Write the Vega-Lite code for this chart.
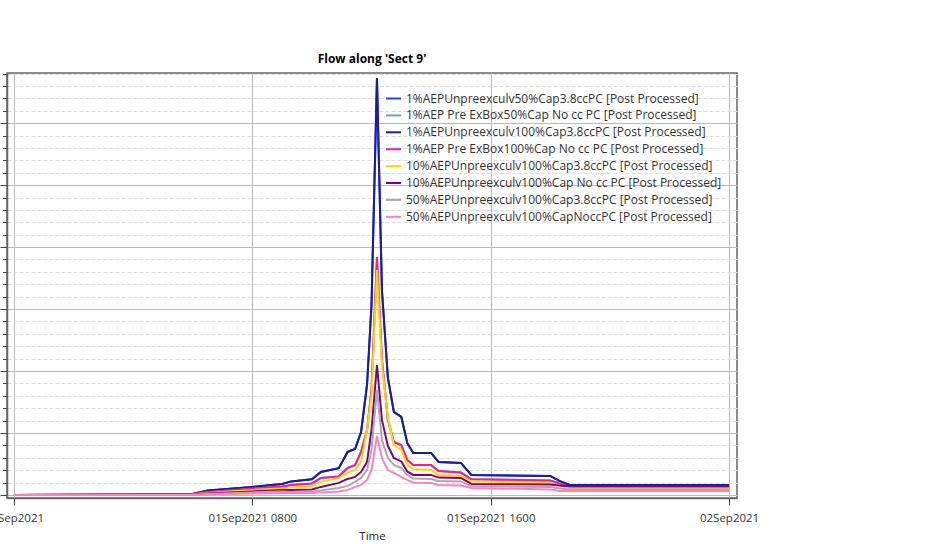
{
  "$schema": "https://vega.github.io/schema/vega-lite/v6.json",
  "width": 730,
  "height": 425,
  "autosize": {"type": "none"},
  "padding": {"left": 7, "top": 73, "right": 193, "bottom": 57},
  "background": "white",
  "config": {
    "font": "Open Sans",
    "view": {"stroke": "#666666", "strokeWidth": 1.5}
  },
  "title": {"text": "Flow along 'Sect 9'", "fontSize": 12, "fontWeight": "bold", "color": "#000000", "offset": 7, "font": "Open Sans"},
  "datasets": {
    "series": [
      {"key": "a", "name": "1%AEPUnpreexculv50%Cap3.8ccPC [Post Processed]"},
      {"key": "b", "name": "1%AEP Pre ExBox50%Cap No cc PC [Post Processed]"},
      {"key": "c", "name": "1%AEPUnpreexculv100%Cap3.8ccPC [Post Processed]"},
      {"key": "d", "name": "1%AEP Pre ExBox100%Cap No cc PC [Post Processed]"},
      {"key": "e", "name": "10%AEPUnpreexculv100%Cap3.8ccPC [Post Processed]"},
      {"key": "f", "name": "10%AEPUnpreexculv100%Cap No cc PC [Post Processed]"},
      {"key": "g", "name": "50%AEPUnpreexculv100%Cap3.8ccPC [Post Processed]"},
      {"key": "h", "name": "50%AEPUnpreexculv100%CapNoccPC [Post Processed]"}
    ],
    "flow": [
      {"t": "2021-09-01T00:00:00", "a": 0, "b": 0, "c": 0, "d": 0, "e": 0, "f": 0, "g": 0, "h": 0},
      {"t": "2021-09-01T04:00:00", "a": 0.008, "b": 0.005, "c": 0.008, "d": 0.005, "e": 0.003, "f": 0.002, "g": 0, "h": 0},
      {"t": "2021-09-01T06:00:00", "a": 0.016, "b": 0.016, "c": 0.016, "d": 0.016, "e": 0.008, "f": 0.008, "g": 0.002, "h": 0},
      {"t": "2021-09-01T06:30:00", "a": 0.073, "b": 0.048, "c": 0.073, "d": 0.048, "e": 0.032, "f": 0.024, "g": 0.016, "h": 0.008},
      {"t": "2021-09-01T08:00:00", "a": 0.129, "b": 0.102, "c": 0.129, "d": 0.102, "e": 0.081, "f": 0.056, "g": 0.040, "h": 0.024},
      {"t": "2021-09-01T09:00:00", "a": 0.177, "b": 0.137, "c": 0.177, "d": 0.137, "e": 0.105, "f": 0.081, "g": 0.056, "h": 0.032},
      {"t": "2021-09-01T09:18:00", "a": 0.218, "b": 0.161, "c": 0.218, "d": 0.161, "e": 0.121, "f": 0.081, "g": 0.048, "h": 0.032},
      {"t": "2021-09-01T10:00:00", "a": 0.253, "b": 0.185, "c": 0.253, "d": 0.185, "e": 0.134, "f": 0.089, "g": 0.056, "h": 0.032},
      {"t": "2021-09-01T10:18:00", "a": 0.371, "b": 0.274, "c": 0.371, "d": 0.274, "e": 0.210, "f": 0.129, "g": 0.073, "h": 0.040},
      {"t": "2021-09-01T10:54:00", "a": 0.431, "b": 0.298, "c": 0.431, "d": 0.298, "e": 0.274, "f": 0.194, "g": 0.113, "h": 0.056},
      {"t": "2021-09-01T11:12:00", "a": 0.694, "b": 0.435, "c": 0.694, "d": 0.435, "e": 0.355, "f": 0.258, "g": 0.145, "h": 0.081},
      {"t": "2021-09-01T11:27:00", "a": 0.742, "b": 0.484, "c": 0.742, "d": 0.484, "e": 0.403, "f": 0.290, "g": 0.210, "h": 0.129},
      {"t": "2021-09-01T11:39:00", "a": 1.016, "b": 0.694, "c": 1.016, "d": 0.694, "e": 0.532, "f": 0.371, "g": 0.274, "h": 0.161},
      {"t": "2021-09-01T11:51:00", "a": 1.774, "b": 1.048, "c": 1.774, "d": 1.048, "e": 1.048, "f": 0.532, "g": 0.403, "h": 0.242},
      {"t": "2021-09-01T12:00:00", "a": 3.065, "b": 1.694, "c": 3.065, "d": 1.694, "e": 1.613, "f": 1.048, "g": 0.726, "h": 0.403},
      {"t": "2021-09-01T12:11:00", "a": 6.726, "b": 3.839, "c": 6.726, "d": 3.839, "e": 3.629, "f": 2.097, "g": 1.694, "h": 0.952},
      {"t": "2021-09-01T12:21:00", "a": 3.306, "b": 2.177, "c": 3.306, "d": 2.177, "e": 2.097, "f": 1.210, "g": 0.887, "h": 0.597},
      {"t": "2021-09-01T12:33:00", "a": 1.887, "b": 1.210, "c": 1.887, "d": 1.210, "e": 1.242, "f": 0.790, "g": 0.597, "h": 0.403},
      {"t": "2021-09-01T12:45:00", "a": 1.339, "b": 0.855, "c": 1.339, "d": 0.855, "e": 0.806, "f": 0.597, "g": 0.484, "h": 0.355},
      {"t": "2021-09-01T13:00:00", "a": 1.258, "b": 0.806, "c": 1.258, "d": 0.806, "e": 0.726, "f": 0.540, "g": 0.435, "h": 0.290},
      {"t": "2021-09-01T13:12:00", "a": 0.839, "b": 0.565, "c": 0.839, "d": 0.565, "e": 0.484, "f": 0.379, "g": 0.323, "h": 0.242},
      {"t": "2021-09-01T13:24:00", "a": 0.677, "b": 0.484, "c": 0.677, "d": 0.484, "e": 0.419, "f": 0.323, "g": 0.266, "h": 0.198},
      {"t": "2021-09-01T14:00:00", "a": 0.677, "b": 0.484, "c": 0.677, "d": 0.484, "e": 0.403, "f": 0.323, "g": 0.258, "h": 0.194},
      {"t": "2021-09-01T14:15:00", "a": 0.532, "b": 0.387, "c": 0.532, "d": 0.387, "e": 0.323, "f": 0.279, "g": 0.226, "h": 0.161},
      {"t": "2021-09-01T15:00:00", "a": 0.516, "b": 0.360, "c": 0.516, "d": 0.360, "e": 0.306, "f": 0.274, "g": 0.218, "h": 0.153},
      {"t": "2021-09-01T15:21:00", "a": 0.323, "b": 0.253, "c": 0.323, "d": 0.253, "e": 0.215, "f": 0.177, "g": 0.145, "h": 0.113},
      {"t": "2021-09-01T18:00:00", "a": 0.306, "b": 0.234, "c": 0.306, "d": 0.234, "e": 0.189, "f": 0.169, "g": 0.129, "h": 0.089},
      {"t": "2021-09-01T18:18:00", "a": 0.226, "b": 0.185, "c": 0.226, "d": 0.185, "e": 0.153, "f": 0.153, "g": 0.105, "h": 0.065},
      {"t": "2021-09-01T18:39:00", "a": 0.161, "b": 0.124, "c": 0.161, "d": 0.124, "e": 0.108, "f": 0.140, "g": 0.089, "h": 0.065},
      {"t": "2021-09-02T00:00:00", "a": 0.161, "b": 0.124, "c": 0.161, "d": 0.124, "e": 0.108, "f": 0.140, "g": 0.089, "h": 0.065}
    ]
  },
  "data": {"name": "flow"},
  "transform": [
    {"fold": ["a", "b", "c", "d", "e", "f", "g", "h"], "as": ["key", "v"]},
    {"lookup": "key", "from": {"data": {"name": "series"}, "key": "key", "fields": ["name"]}}
  ],
  "mark": {"type": "line", "strokeWidth": 2, "clip": true},
  "encoding": {
    "x": {
      "field": "t",
      "type": "temporal",
      "scale": {
        "domain": [
          {"year": 2021, "month": 8, "date": 31, "hours": 23, "minutes": 46},
          {"year": 2021, "month": 9, "date": 2, "hours": 0, "minutes": 16}
        ],
        "nice": false
      },
      "axis": {
        "title": "Time",
        "titleFont": "Open Sans",
        "titleFontSize": 11.5,
        "titleFontWeight": "normal",
        "titleColor": "#222222",
        "titlePadding": 7,
        "values": [
          {"year": 2021, "month": 9, "date": 1, "hours": 0},
          {"year": 2021, "month": 9, "date": 1, "hours": 8},
          {"year": 2021, "month": 9, "date": 1, "hours": 16},
          {"year": 2021, "month": 9, "date": 2, "hours": 0}
        ],
        "labelExpr": "hours(datum.value) == 0 ? timeFormat(datum.value, '%d%b%Y') : timeFormat(datum.value, '%d%b%Y %H%M')",
        "labelFont": "Open Sans",
        "labelFontSize": 11.5,
        "labelColor": "#333333",
        "labelPadding": 7,
        "labelFlush": false,
        "labelOverlap": false,
        "tickSize": 7,
        "tickColor": "#444444",
        "domainColor": "#666666",
        "domainWidth": 1.5,
        "grid": true,
        "gridColor": "#bbbbbb",
        "gridWidth": 1
      }
    },
    "y": {
      "field": "v",
      "type": "quantitative",
      "scale": {"domain": [-0.05, 6.81], "nice": false, "zero": false},
      "axis": {
        "title": null,
        "values": [0, 0.2, 0.4, 0.6, 0.8, 1, 1.2, 1.4, 1.6, 1.8, 2, 2.2, 2.4, 2.6, 2.8, 3, 3.2, 3.4, 3.6, 3.8, 4, 4.2, 4.4, 4.6, 4.8, 5, 5.2, 5.4, 5.6, 5.8, 6, 6.2, 6.4, 6.6, 6.8],
        "labels": false,
        "domainColor": "#666666",
        "domainWidth": 1.5,
        "tickColor": "#444444",
        "tickSize": {"condition": {"test": "abs(datum.value - round(datum.value)) < 0.001", "value": 7}, "value": 4.5},
        "grid": true,
        "gridColor": {"condition": {"test": "abs(datum.value - round(datum.value)) < 0.001", "value": "#bbbbbb"}, "value": "#dddddd"},
        "gridDash": {"condition": {"test": "abs(datum.value - round(datum.value)) < 0.001", "value": []}, "value": [4, 2]},
        "gridWidth": 1
      }
    },
    "color": {
      "field": "name",
      "type": "nominal",
      "scale": {
        "domain": [
          "1%AEPUnpreexculv50%Cap3.8ccPC [Post Processed]",
          "1%AEP Pre ExBox50%Cap No cc PC [Post Processed]",
          "1%AEPUnpreexculv100%Cap3.8ccPC [Post Processed]",
          "1%AEP Pre ExBox100%Cap No cc PC [Post Processed]",
          "10%AEPUnpreexculv100%Cap3.8ccPC [Post Processed]",
          "10%AEPUnpreexculv100%Cap No cc PC [Post Processed]",
          "50%AEPUnpreexculv100%Cap3.8ccPC [Post Processed]",
          "50%AEPUnpreexculv100%CapNoccPC [Post Processed]"
        ],
        "range": ["#2040ff", "#66aaa6", "#1c1c9c", "#ff1a8c", "#ffd700", "#800080", "#a9a9a9", "#ff80c0"]
      },
      "legend": {
        "title": null,
        "orient": "none",
        "legendX": 378,
        "legendY": 17,
        "padding": 0,
        "symbolType": "stroke",
        "symbolSize": 225,
        "symbolStrokeWidth": 2,
        "labelFont": "Open Sans",
        "labelFontSize": 12,
        "labelColor": "#333333",
        "labelLimit": 0,
        "labelOffset": 4,
        "rowPadding": 1.9
      }
    }
  }
}
